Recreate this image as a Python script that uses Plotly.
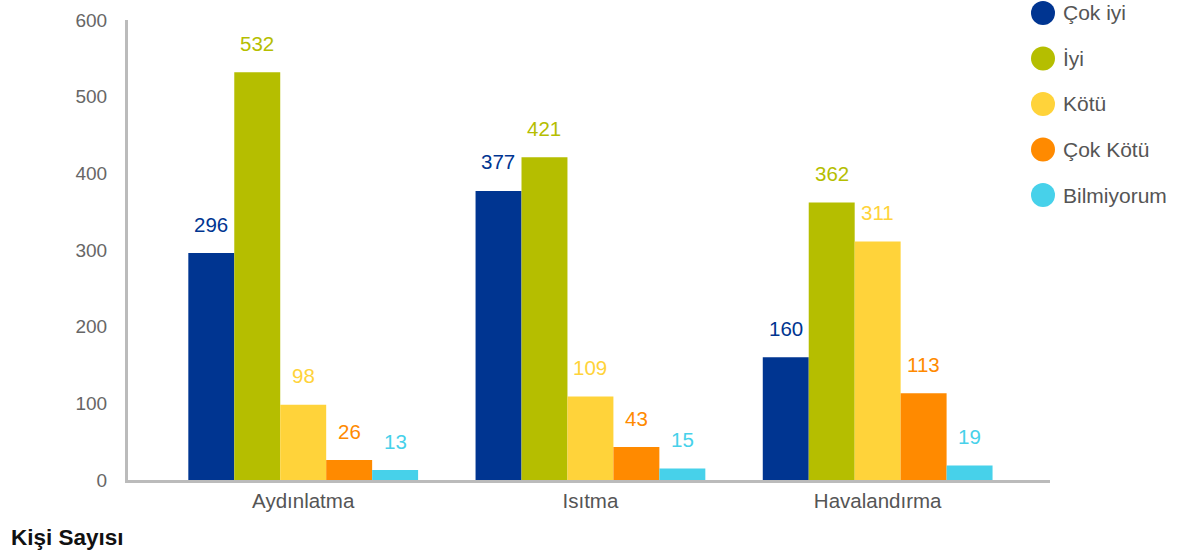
import plotly.graph_objects as go

categories = ["Aydınlatma", "Isıtma", "Havalandırma"]
series_names = ["Çok iyi", "İyi", "Kötü", "Çok Kötü", "Bilmiyorum"]
cok_iyi = [296, 377, 160]
iyi = [532, 421, 362]
kotu = [98, 109, 311]
cok_kotu = [26, 43, 113]
bilmiyorum = [13, 15, 19]
y_ticks = [0, 100, 200, 300, 400, 500, 600]

series_values = [cok_iyi, iyi, kotu, cok_kotu, bilmiyorum]
colors = ["#003591", "#b5be00", "#ffd33a", "#ff8a00", "#47d1ea"]
FONT = "Liberation Sans, Arial"

fig = go.Figure()
for name, vals, col in zip(series_names, series_values, colors):
    fig.add_trace(go.Bar(x=categories, y=vals, name=name, marker=dict(color=col, line=dict(width=0)),
                         showlegend=False))

# plot area in pixels: x 128..1050, y 20..480
PW, PH = 922.0, 460.0

bar_px = 46
annotations = []
shapes = []
for i, (vals, col) in enumerate(zip(series_values, colors)):
    for j, v in enumerate(vals):
        annotations.append(dict(x=categories[j], y=v, text=str(v), showarrow=False,
                                xshift=(i - 2) * bar_px, yshift=29, yanchor="middle",
                                font=dict(color=col, size=20.5, family=FONT)))

# custom legend with large circles
for i, (name, col) in enumerate(zip(series_names, colors)):
    ypx = 13 + i * 45.5
    yp = (480 - ypx) / PH
    shapes.append(dict(type="circle", xref="paper", yref="paper", xsizemode="pixel", ysizemode="pixel",
                       xanchor=(1043 - 128) / PW, yanchor=yp, x0=-12, x1=12, y0=-12, y1=12,
                       fillcolor=col, line=dict(width=0)))
    annotations.append(dict(xref="paper", yref="paper", x=(1061 - 128) / PW, y=yp, text=name,
                            xanchor="left", yanchor="middle", showarrow=False,
                            font=dict(color="#555", size=21, family=FONT)))

annotations.append(dict(xref="paper", yref="paper", x=(9 - 128) / PW, y=(480 - 537) / PH,
                        xanchor="left", yanchor="middle", text="<b>Kişi Sayısı</b>", showarrow=False,
                        font=dict(color="#111", size=22.5, family=FONT)))

fig.update_layout(
    width=1197, height=559,
    margin=dict(l=128, r=147, t=20, b=79, autoexpand=False),
    plot_bgcolor="white", paper_bgcolor="white",
    barmode="group", bargap=0.2, bargroupgap=0,
    font=dict(family=FONT, size=20, color="#666"),
    showlegend=False,
    xaxis=dict(range=[-0.61, 2.6], showline=True, linecolor="#bbbbbb", linewidth=3,
               ticks="", showgrid=False, tickfont=dict(size=20.5, color="#555")),
    yaxis=dict(range=[0, 600], tickvals=y_ticks, showline=True, linecolor="#bbbbbb", linewidth=3,
               showgrid=False, zeroline=False, ticks="", ticklabelstandoff=14,
               tickfont=dict(size=19, color="#666")),
    annotations=annotations,
    shapes=shapes,
)

fig.write_html("out.html", config={"displayModeBar": False},
               post_script="document.body.style.margin='0';")
